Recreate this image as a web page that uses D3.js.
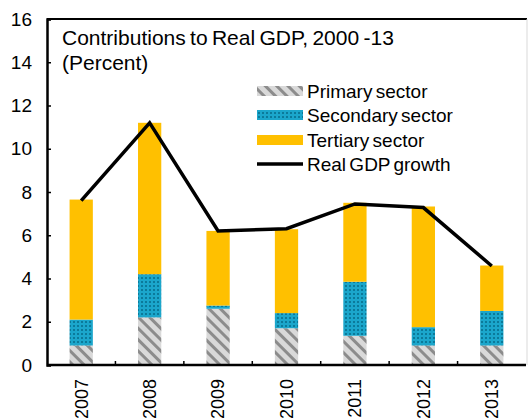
<!DOCTYPE html>
<html>
<head>
<meta charset="utf-8">
<script src="https://cdn.jsdelivr.net/npm/d3@7"></script>
<style>
  html, body { margin: 0; padding: 0; background: #fff; }
  svg { display: block; font-family: "Liberation Sans", Arial, sans-serif; }
</style>
</head>
<body>
<svg id="chart" width="528" height="420"></svg>
<script>
// Contributions to real GDP growth by sector (percentage points)
const years = ["2007", "2008", "2009", "2010", "2011", "2012", "2013"];
const primary = [0.9, 2.2, 2.6, 1.7, 1.35, 0.9, 0.9];
const secondary = [1.2, 2.0, 0.15, 0.7, 2.5, 0.85, 1.6];
const tertiary = [5.55, 7.0, 3.45, 3.88, 3.65, 5.58, 2.1];
const gdpGrowth = [7.6, 11.2, 6.2, 6.3, 7.45, 7.28, 4.58];
const yTicks = [0, 2, 4, 6, 8, 10, 12, 14, 16];
const seriesNames = ["Primary sector", "Secondary sector", "Tertiary sector", "Real GDP growth"];

const svg = d3.select("#chart");
const plot = { left: 47, right: 526, top: 19, bottom: 365 };

const x = d3.scaleBand().domain(years).range([plot.left, plot.right])
  .paddingInner(0.66).paddingOuter(0.33);
const y = d3.scaleLinear().domain([0, 16]).range([plot.bottom, plot.top]);

// Fill patterns
const defs = svg.append("defs");
const stripes = defs.append("pattern")
  .attr("id", "pat-primary").attr("patternUnits", "userSpaceOnUse")
  .attr("width", 8).attr("height", 8)
  .attr("patternTransform", "rotate(-45)");
stripes.append("rect").attr("width", 8).attr("height", 8).attr("fill", "#d9d9d9");
stripes.append("rect").attr("x", 0).attr("width", 3).attr("height", 8).attr("fill", "#8c8c8c");

const dots = defs.append("pattern")
  .attr("id", "pat-secondary").attr("patternUnits", "userSpaceOnUse")
  .attr("width", 4).attr("height", 4);
dots.append("rect").attr("width", 4).attr("height", 4).attr("fill", "#1ba6cb");
dots.append("rect").attr("x", 1).attr("y", 1).attr("width", 2).attr("height", 2).attr("fill", "#0b7a9a");

const fills = ["url(#pat-primary)", "url(#pat-secondary)", "#ffc000"];

// Stacked bars
const rows = years.map((yr, i) => ({ year: yr, primary: primary[i], secondary: secondary[i], tertiary: tertiary[i] }));
const stack = d3.stack().keys(["primary", "secondary", "tertiary"])(rows);

svg.append("g").selectAll("g").data(stack).join("g")
  .attr("fill", (d, i) => fills[i])
  .selectAll("rect").data(d => d).join("rect")
  .attr("x", d => x(d.data.year))
  .attr("width", x.bandwidth())
  .attr("y", d => y(d[1]))
  .attr("height", d => y(d[0]) - y(d[1]));

// GDP growth line
const line = d3.line()
  .x((d, i) => x(years[i]) + x.bandwidth() / 2)
  .y(d => y(d));
svg.append("path").datum(gdpGrowth)
  .attr("d", line)
  .attr("fill", "none").attr("stroke", "#000").attr("stroke-width", 3.5)
  .attr("stroke-linejoin", "miter");

// Frame: top rule and light right edge
svg.append("line").attr("x1", plot.left).attr("x2", plot.right + 1)
  .attr("y1", plot.top).attr("y2", plot.top)
  .attr("stroke", "#000").attr("stroke-width", 2);
svg.append("line").attr("x1", plot.right + 1).attr("x2", plot.right + 1)
  .attr("y1", plot.top).attr("y2", plot.bottom)
  .attr("stroke", "#d9d9d9").attr("stroke-width", 1);

// Y axis
const yAxis = svg.append("g").attr("transform", `translate(${plot.left},0)`)
  .call(d3.axisLeft(y).tickValues(yTicks).tickSize(-4).tickPadding(15));
yAxis.select(".domain").attr("stroke-width", 2.5);
yAxis.selectAll(".tick line").attr("stroke-width", 1.5);
yAxis.selectAll("text").attr("font-size", 19).attr("fill", "#000")
  .attr("font-family", "Liberation Sans, Arial, sans-serif");

// X axis: boundary ticks between categories, rotated year labels
const xAxis = svg.append("g").attr("transform", `translate(0,${plot.bottom})`)
  .call(d3.axisBottom(x).tickSize(0).tickPadding(0));
xAxis.select(".domain").attr("stroke-width", 2.5).attr("d", `M${plot.left},0H${plot.right}`);
xAxis.selectAll(".tick text")
  .attr("font-size", 18).attr("fill", "#000")
  .attr("font-family", "Liberation Sans, Arial, sans-serif")
  .attr("transform", "rotate(-90)")
  .attr("text-anchor", "end")
  .attr("x", -14).attr("y", 0).attr("dy", "0.35em");
xAxis.append("g").selectAll("line")
  .data(years.slice(1))
  .join("line")
  .attr("x1", d => x(d) - x.step() * x.paddingInner() / 2)
  .attr("x2", d => x(d) - x.step() * x.paddingInner() / 2)
  .attr("y1", 0).attr("y2", -4)
  .attr("stroke", "#000").attr("stroke-width", 1.5);

// Title
const title = svg.append("text").attr("x", 62).attr("y", 45)
  .attr("font-size", 21).attr("word-spacing", -1.5).attr("fill", "#000");
title.append("tspan").attr("x", 62).text("Contributions to Real GDP, 2000 -13");
title.append("tspan").attr("x", 62).attr("dy", 25).text("(Percent)");

// Legend
const legend = svg.append("g");
const legendY = [91, 115, 140, 164];
seriesNames.forEach((name, i) => {
  const g = legend.append("g").attr("transform", `translate(257,${legendY[i]})`);
  if (i < 3) {
    g.append("rect").attr("x", 0).attr("y", -5).attr("width", 46).attr("height", 10)
      .attr("fill", fills[i]);
  } else {
    g.append("line").attr("x1", 0).attr("x2", 46).attr("y1", 0).attr("y2", 0)
      .attr("stroke", "#000").attr("stroke-width", 3.5);
  }
  g.append("text").attr("x", 50).attr("y", 0).attr("dy", "0.36em")
    .attr("font-size", 19).attr("word-spacing", -2).attr("fill", "#000").text(name);
});
</script>
</body>
</html>
